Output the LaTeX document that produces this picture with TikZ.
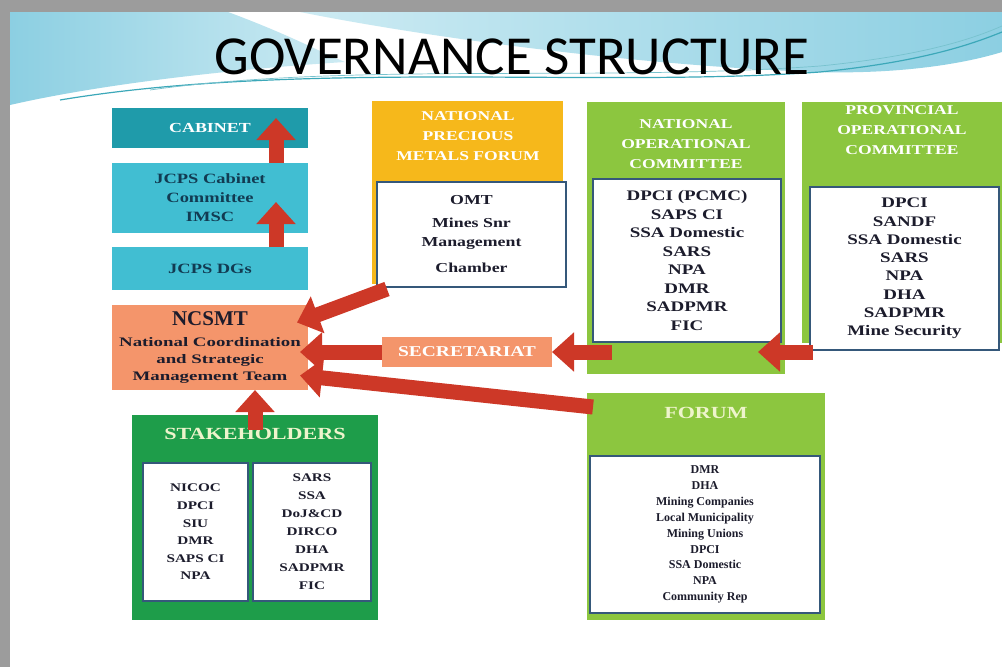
\documentclass[tikz,border=0pt]{standalone}
\usepackage{fontspec}
\setmainfont{Liberation Serif}
\newfontfamily\titlefont{Carlito}
\newfontfamily\boxfont[FakeStretch=1.3]{Liberation Serif}
\newfontfamily\wideboxfont[FakeStretch=1.45]{Liberation Serif}
\usetikzlibrary{arrows.meta,calc,positioning}

\definecolor{cabteal}{HTML}{1F9BAA}
\definecolor{jcpsteal}{HTML}{41BED2}
\definecolor{ncsmtsalmon}{HTML}{F4956B}
\definecolor{npmfgold}{HTML}{F6B81B}
\definecolor{opgreen}{HTML}{8CC63F}
\definecolor{stakegreen}{HTML}{1E9D4A}
\definecolor{arrowred}{HTML}{CD3827}
\definecolor{listedge}{HTML}{35587A}
\definecolor{listtext}{HTML}{1C1C2C}
\definecolor{navytext}{HTML}{123B52}
\definecolor{creamtext}{HTML}{EEF4CC}
\definecolor{skydeep}{HTML}{8CCFE2}
\definecolor{skylight}{HTML}{CDEBF3}
\definecolor{swoosh}{HTML}{3CA8B9}
\definecolor{frameshade}{HTML}{9C9C9C}

\tikzset{
  panel/.style={anchor=north west, inner sep=0pt, outer sep=0pt},
  listbox/.style={panel, draw=listedge, line width=1.5pt, fill=white, align=center, text=listtext},
  hdrtext/.style={text=white, align=center, inner sep=0pt, font=\boxfont\bfseries\fontsize{13.5}{20}\selectfont},
  bigarrow/.style={draw=arrowred, line width=15pt, -{Triangle[length=22pt,width=38pt]}},
}

\begin{document}
\begin{tikzpicture}[x=1pt,y=-1pt]

\useasboundingbox (0,0) rectangle (1002,667);
\clip (0,0) rectangle (1002,667);

% slide frame and banner
\fill[frameshade] (0,0) rectangle (1002,667);
\fill[white] (10,12) rectangle (1002,667);
\begin{scope}
  \clip (10,12) rectangle (1002,667);
  \shade[left color=skydeep, right color=skylight] (10,12) -- (228,12) .. controls (290,35) and (320,52) .. (345,62) .. controls (250,68) and (110,82) .. (10,105) -- cycle;
  \shade[left color=skylight, right color=skydeep] (300,12) -- (1002,12) -- (1002,52) .. controls (950,68) and (880,74) .. (815,72) .. controls (650,66) and (440,40) .. (300,12) -- cycle;
  \draw[swoosh, line width=1.2pt] (60,100) .. controls (300,60) and (600,88) .. (820,72) .. controls (920,62) and (970,45) .. (1002,32);
  \draw[swoosh!70, line width=0.7pt] (150,90) .. controls (350,62) and (600,82) .. (820,66) .. controls (920,56) and (970,40) .. (1002,26);
\end{scope}

\node (title) at (512,57) {\titlefont\fontsize{55}{55}\selectfont GOVERNANCE STRUCTURE};

% left column
\node[panel, fill=cabteal, minimum width=196pt, minimum height=40pt, text=white,
      font=\boxfont\bfseries\fontsize{13.8}{16}\selectfont] (cabinet) at (112,108) {CABINET};
\node[panel, below=15pt of cabinet, fill=jcpsteal, minimum width=196pt, minimum height=70pt, align=center,
      text=navytext, font=\boxfont\bfseries\fontsize{14.2}{19}\selectfont] (jcps) {JCPS Cabinet\\Committee\\IMSC};
\node[panel, below=14pt of jcps, fill=jcpsteal, minimum width=196pt, minimum height=43pt,
      text=navytext, font=\boxfont\bfseries\fontsize{14.2}{19}\selectfont] (dgs) {JCPS DGs};
\node[panel, below=15pt of dgs, fill=ncsmtsalmon, minimum width=196pt, minimum height=85pt, align=center,
      text=listtext, font=\wideboxfont\bfseries\fontsize{13}{17}\selectfont] (ncsmt)
      {{\rmfamily\fontsize{21}{22}\selectfont NCSMT}\\[4pt]National Coordination\\and Strategic\\Management Team};

% national precious metals forum
\node[panel, fill=npmfgold, minimum width=191pt, minimum height=183pt] (npmf) at (372,101) {};
\node[hdrtext] (npmfhdr) at (468,136) {NATIONAL\\PRECIOUS\\METALS FORUM};
\node[listbox, minimum width=189pt, minimum height=105pt,
      font=\boxfont\bfseries\fontsize{13.7}{19}\selectfont] (npmflist) at (377,182)
      {OMT\\[4pt]Mines Snr\\Management\\[7pt]Chamber};

% national operational committee
\node[panel, fill=opgreen, minimum width=198pt, minimum height=272pt] (noc) at (587,102) {};
\node[hdrtext] (nochdr) at (686,144) {NATIONAL\\OPERATIONAL\\COMMITTEE};
\node[listbox, minimum width=188pt, minimum height=163pt,
      font=\boxfont\bfseries\fontsize{14.6}{18.5}\selectfont] (noclist) at (593,179)
      {DPCI (PCMC)\\SAPS CI\\SSA Domestic\\SARS\\NPA\\DMR\\SADPMR\\FIC};

% provincial operational committee
\node[panel, fill=opgreen, minimum width=205pt, minimum height=241pt] (poc) at (802,102) {};
\node[hdrtext] (pochdr) at (902,130) {PROVINCIAL\\OPERATIONAL\\COMMITTEE};
\node[listbox, minimum width=189pt, minimum height=163pt,
      font=\boxfont\bfseries\fontsize{14.6}{18.3}\selectfont] (poclist) at (810,187)
      {DPCI\\SANDF\\SSA Domestic\\SARS\\NPA\\DHA\\SADPMR\\Mine Security};

% secretariat
\node[panel, fill=ncsmtsalmon, minimum width=170pt, minimum height=30pt, text=white,
      font=\boxfont\bfseries\fontsize{15}{18}\selectfont] (secr) at (382,337) {SECRETARIAT};

% stakeholders
\node[panel, fill=stakegreen, minimum width=246pt, minimum height=205pt] (stake) at (132,415) {};
\node[text=creamtext, inner sep=0pt, font=\boxfont\bfseries\fontsize{17}{20}\selectfont] (stakehdr) at (255,434) {STAKEHOLDERS};
\node[listbox, minimum width=105pt, minimum height=138pt,
      font=\boxfont\bfseries\fontsize{11.7}{17.6}\selectfont] (stakeleft) at (143,463)
      {NICOC\\DPCI\\SIU\\DMR\\SAPS CI\\NPA};
\node[listbox, right=5pt of stakeleft.north east, anchor=north west, minimum width=118pt, minimum height=138pt,
      font=\boxfont\bfseries\fontsize{11.7}{18}\selectfont] (stakeright)
      {SARS\\SSA\\DoJ\&CD\\DIRCO\\DHA\\SADPMR\\FIC};

% forum
\node[panel, fill=opgreen, minimum width=238pt, minimum height=227pt] (forum) at (587,393) {};
\node[text=creamtext, inner sep=0pt, font=\boxfont\bfseries\fontsize{17}{20}\selectfont] (forumhdr) at (706,413) {FORUM};
\node[listbox, minimum width=230pt, minimum height=157pt,
      font=\bfseries\fontsize{12}{15.9}\selectfont] (forumlist) at (590,456)
      {DMR\\DHA\\Mining Companies\\Local Municipality\\Mining Unions\\DPCI\\SSA Domestic\\NPA\\Community Rep};

% arrows
\coordinate (upx) at (276,0);
\coordinate (stakeupx) at (255,0);
\draw[bigarrow] (jcps.north -| upx) -- ($(cabinet.north -| upx)+(0,10)$);
\draw[bigarrow] (dgs.north -| upx) -- ($(jcps.center -| upx)+(0,4)$);
\draw[bigarrow] ($(npmf.south west)+(15,5)$) -- ($(ncsmt.east)+(-11,-25)$);
\draw[bigarrow] (secr.west) -- ($(secr.west -| ncsmt.east)+(-8,0)$);
\draw[bigarrow] ($(forum.north west)+(6,14)$) -- ($(ncsmt.east)+(-8,28)$);
\draw[bigarrow] ($(secr.east -| noc.west)+(25,0)$) -- (secr.east);
\draw[bigarrow] ($(secr.east -| poclist.west)+(3,0)$) -- ($(secr.east -| noc.east)+(-27,0)$);
\draw[bigarrow] ($(stake.north -| stakeupx)+(0,15)$) -- (ncsmt.south -| stakeupx);

\end{tikzpicture}
\end{document}
